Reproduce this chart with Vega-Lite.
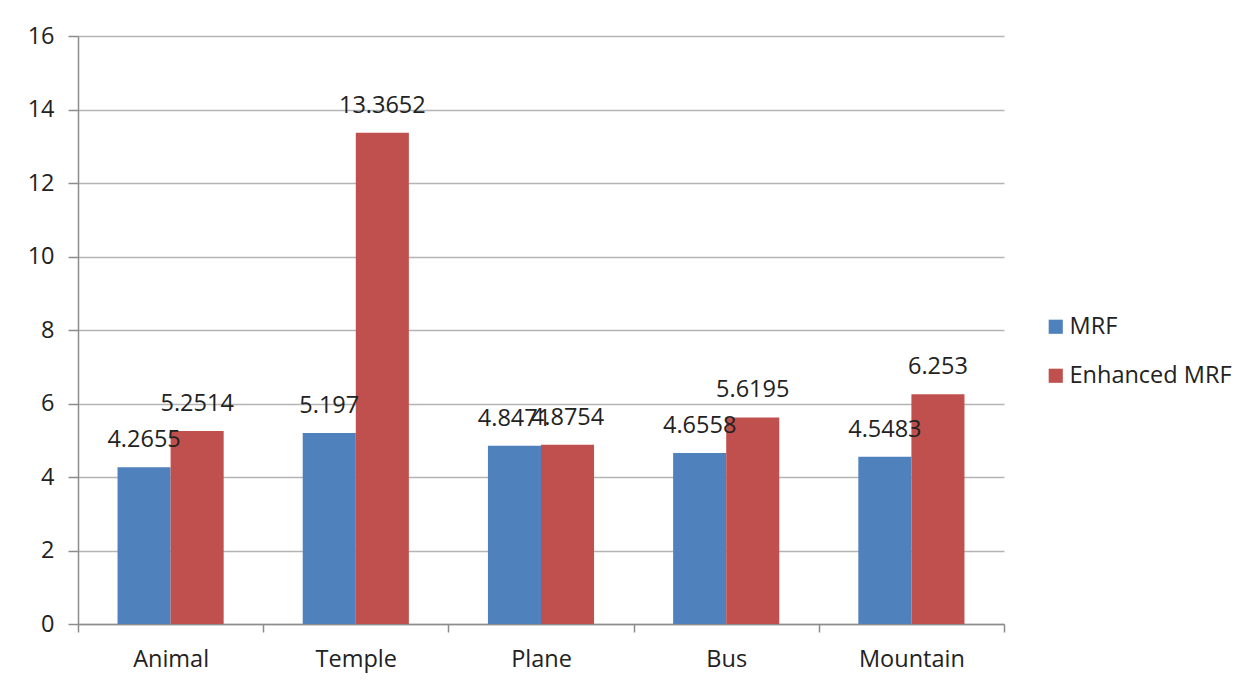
{
  "$schema": "https://vega.github.io/schema/vega-lite/v6.json",
  "autosize": {"type": "none"},
  "width": 926,
  "height": 588,
  "padding": {"left": 78, "top": 36, "right": 249, "bottom": 61},
  "background": "white",
  "config": {
    "font": "Open Sans",
    "view": {"stroke": null},
    "axis": {"labelFont": "Open Sans", "labelFontSize": 23.5, "labelColor": "#222222", "domainColor": "#8c8c8c", "tickColor": "#8c8c8c", "gridColor": "#b4b4b4", "domainWidth": 1.5, "tickWidth": 1.5, "gridWidth": 1.5}
  },
  "data": {
    "values": [
      {"category": "Animal", "series": "MRF", "value": 4.2655, "label": "4.2655"},
      {"category": "Animal", "series": "Enhanced MRF", "value": 5.2514, "label": "5.2514"},
      {"category": "Temple", "series": "MRF", "value": 5.197, "label": "5.197"},
      {"category": "Temple", "series": "Enhanced MRF", "value": 13.3652, "label": "13.3652"},
      {"category": "Plane", "series": "MRF", "value": 4.8471, "label": "4.8471"},
      {"category": "Plane", "series": "Enhanced MRF", "value": 4.8754, "label": "4.8754"},
      {"category": "Bus", "series": "MRF", "value": 4.6558, "label": "4.6558"},
      {"category": "Bus", "series": "Enhanced MRF", "value": 5.6195, "label": "5.6195"},
      {"category": "Mountain", "series": "MRF", "value": 4.5483, "label": "4.5483"},
      {"category": "Mountain", "series": "Enhanced MRF", "value": 6.253, "label": "6.253"}
    ]
  },
  "encoding": {
    "x": {
      "field": "category", "type": "nominal", "sort": ["Animal", "Temple", "Plane", "Bus", "Mountain"],
      "scale": {"paddingInner": 0, "paddingOuter": 0},
      "axis": {"title": null, "labelAngle": 0, "tickBand": "extent", "tickSize": 8, "labelPadding": 15, "grid": false}
    },
    "xOffset": {
      "field": "series", "type": "nominal", "sort": ["MRF", "Enhanced MRF"],
      "scale": {"paddingInner": 0, "paddingOuter": 0.745}
    },
    "y": {
      "field": "value", "type": "quantitative",
      "scale": {"domain": [0, 16], "nice": false},
      "axis": {"title": null, "values": [0, 2, 4, 6, 8, 10, 12, 14, 16], "tickSize": 10, "labelPadding": 14, "grid": true}
    }
  },
  "layer": [
    {
      "mark": {"type": "bar"},
      "encoding": {
        "color": {
          "field": "series", "type": "nominal", "sort": ["MRF", "Enhanced MRF"],
          "scale": {"domain": ["MRF", "Enhanced MRF"], "range": ["#4F81BD", "#C0504D"]},
          "legend": {
            "title": null, "orient": "none", "legendX": 966, "legendY": 279,
            "symbolType": "square", "symbolSize": 200, "symbolStrokeWidth": 0,
            "labelFontSize": 23.5, "labelFont": "Open Sans", "labelColor": "#222222",
            "labelLimit": 400, "rowPadding": 24, "labelOffset": 2
          }
        }
      }
    },
    {
      "mark": {"type": "text", "dy": -27, "fontSize": 23.5, "font": "Open Sans", "color": "#222222"},
      "encoding": {"text": {"field": "label"}}
    }
  ]
}
